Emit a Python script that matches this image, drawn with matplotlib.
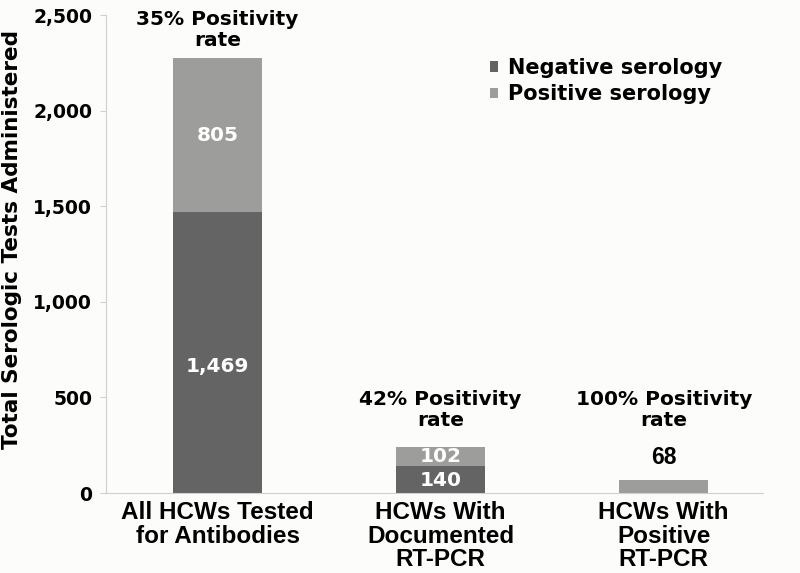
import numpy as np
import matplotlib.pyplot as plt

plt.rcParams['font.family'] = ['DejaVu Sans']
plt.rcParams['font.weight'] = 'bold'

categories = ['All HCWs Tested\nfor Antibodies', 'HCWs With\nDocumented\nRT-PCR', 'HCWs With\nPositive\nRT-PCR']
negative = [1469, 140, 0]
positive = [805, 102, 68]
rate_labels = ['35% Positivity\nrate', '42% Positivity\nrate', '100% Positivity\nrate']
yticks = [0, 500, 1000, 1500, 2000, 2500]

neg_color = '#646464'
pos_color = '#9d9d9b'
bg = '#fcfcfa'

fig = plt.figure(figsize=(8, 5.73), dpi=100, facecolor=bg)
ax = fig.add_axes([0.1325, 0.1396, 0.8215, 0.8342], facecolor=bg)

x = np.arange(len(categories))
width = 0.4
ax.bar(x, negative, width, color=neg_color, label='Negative serology')
ax.bar(x, positive, width, bottom=negative, color=pos_color, label='Positive serology')

# value labels inside the segments (negative ones sit a bit below the middle)
for i in range(len(x)):
    if negative[i] > 0:
        ax.text(x[i], negative[i] * 0.45, f'{negative[i]:,}', ha='center', va='center',
                color='white', fontsize=14.5, fontweight='bold')
        ax.text(x[i], negative[i] + positive[i] / 2, f'{positive[i]:,}', ha='center', va='center',
                color='white', fontsize=14.5, fontweight='bold')
    else:
        ax.text(x[i], positive[i] + 55, f'{positive[i]:,}', ha='center', va='bottom',
                color='black', fontsize=16.5, fontweight='bold', family='Liberation Sans')

# positivity rate annotations
rate_y = [2317, 330, 330]
for i in range(len(x)):
    ax.text(x[i], rate_y[i], rate_labels[i], ha='center', va='bottom', fontsize=14.5,
            fontweight='bold', linespacing=1.15)

ax.set_xlim(-0.5, 2.446)
ax.set_ylim(0, 2500)
ax.set_yticks(yticks)
ax.set_yticklabels([f'{t:,}' for t in yticks], fontsize=13.5, fontweight='bold')
ax.set_xticks(x)
ax.set_xticklabels(categories, fontsize=17.5, fontweight='bold', linespacing=1.02,
                   family='Liberation Sans')
ax.tick_params(axis='y', length=4, color='#d0d0d0', pad=6)
ax.tick_params(axis='x', length=0, pad=6)
for s in ['top', 'right']:
    ax.spines[s].set_visible(False)
ax.spines['left'].set_color('#d0d0d0')
ax.spines['bottom'].set_color('#d0d0d0')

ax.set_ylabel('Total Serologic Tests Administered', fontsize=15.5, fontweight='bold')
ax.yaxis.set_label_coords(-0.128, 0.53)

ax.legend(loc='upper left', bbox_to_anchor=(0.5845, 0.91), frameon=False,
          handlelength=0.4, handleheight=0.4, handletextpad=0.48,
          borderpad=0, borderaxespad=0, labelspacing=0.3,
          prop={'weight': 'bold', 'size': 15})

fig.savefig('out.png', dpi=100, facecolor=bg)
